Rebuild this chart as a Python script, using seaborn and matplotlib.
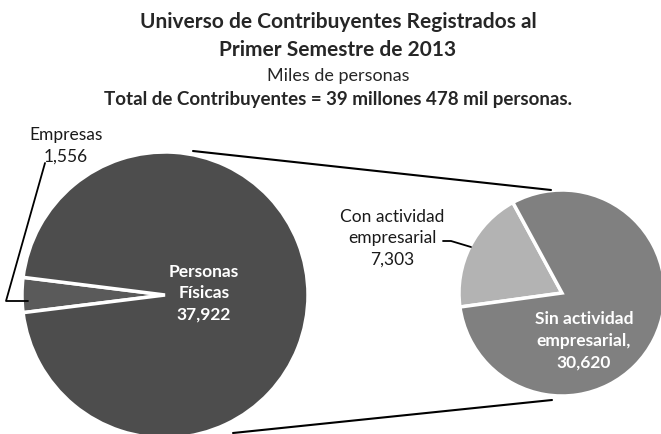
import matplotlib
matplotlib.use("Agg")
import matplotlib.pyplot as plt
import seaborn as sns

# Data (miles de personas)
main_labels = ["Empresas", "Personas\nFísicas"]
main_values = [1556, 37922]
sub_labels = ["Con actividad\nempresarial", "Sin actividad\nempresarial,"]
sub_values = [7303, 30620]

sns.set_theme(style="white")
plt.rcParams["font.family"] = ["Lato", "DejaVu Sans"]

main_colors = ["#5a5a5a", "#4d4d4d"]
sub_colors = ["#b3b3b3", "#808080"]

W, H = 661, 435
fig = plt.figure(figsize=(W / 100, H / 100), dpi=100)
ax = fig.add_axes([0, 0, 1, 1])

def Y(y):
    return H - y

# main pie: Empresas slice centred on the left
emp_angle = main_values[0] / sum(main_values) * 360
ax.pie(main_values, colors=main_colors, startangle=180 - emp_angle / 2,
       center=(165, Y(296)), radius=143, frame=True,
       wedgeprops=dict(edgecolor="white", linewidth=2.5))

# secondary pie: persons split
ax.pie(sub_values, colors=sub_colors, startangle=118.5,
       center=(562, Y(294)), radius=103, frame=True,
       wedgeprops=dict(edgecolor="white", linewidth=2.5))
ax.set_xlim(0, W)
ax.set_ylim(0, H)
ax.set_aspect("equal")
ax.axis("off")

# connector lines
ax.plot([193, 551], [Y(152), Y(191)], color="black", lw=1.5)
ax.plot([233, 552], [Y(434), Y(401)], color="black", lw=1.5)

# titles
ax.text(338, Y(22), "Universo de Contribuyentes Registrados al", ha="center", va="center",
        fontsize=15, fontweight="bold")
ax.text(338, Y(50), "Primer Semestre de 2013", ha="center", va="center",
        fontsize=15, fontweight="bold")
ax.text(338, Y(76), "Miles de personas", ha="center", va="center", fontsize=13)
ax.text(338, Y(100), "Total de Contribuyentes = 39 millones 478 mil personas.",
        ha="center", va="center", fontsize=13.5, fontweight="bold")

# data labels
ax.text(204, Y(293), f"{main_labels[1]}\n{main_values[1]:,}", ha="center", va="center",
        color="white", fontsize=12.5, fontweight="bold", linespacing=1.4)
ax.text(66, Y(146), f"{main_labels[0]}\n{main_values[0]:,}", ha="center", va="center",
        color="#1a1a1a", fontsize=12.5, linespacing=1.4)
ax.plot([45, 6, 28], [Y(164), Y(302), Y(302)], color="black", lw=1.3)

ax.text(392, Y(238), f"{sub_labels[0]}\n{sub_values[0]:,}", ha="center", va="center",
        color="#1a1a1a", fontsize=12.5, linespacing=1.4)
ax.plot([443, 451, 471], [Y(242), Y(242), Y(248)], color="black", lw=1.3)

ax.text(584, Y(341), f"{sub_labels[1]}\n{sub_values[1]:,}", ha="center", va="center",
        color="white", fontsize=12.5, fontweight="bold", linespacing=1.45)

fig.savefig("out.png", dpi=100)
